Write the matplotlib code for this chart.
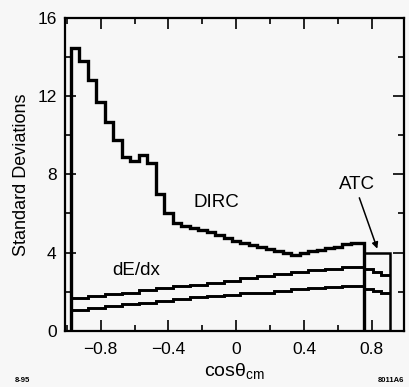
import matplotlib
matplotlib.use('Agg')
import matplotlib.pyplot as plt
from matplotlib.ticker import MultipleLocator

plt.rcParams['font.family'] = ['Liberation Sans', 'DejaVu Sans']
plt.rcParams['mathtext.fontset'] = 'custom'
plt.rcParams['mathtext.rm'] = 'Liberation Sans'
plt.rcParams['mathtext.it'] = 'Liberation Sans'

# DIRC separation, stepped histogram
dirc_edges = [-0.975, -0.925, -0.875, -0.825, -0.775, -0.725, -0.675, -0.625,
              -0.575, -0.525, -0.475, -0.425, -0.375, -0.325, -0.275, -0.225,
              -0.175, -0.125, -0.075, -0.025, 0.025, 0.075, 0.125, 0.175,
              0.225, 0.275, 0.325, 0.375, 0.425, 0.475, 0.525, 0.575, 0.625,
              0.675, 0.755]
dirc_vals = [14.46, 13.8, 12.8, 11.7, 10.7, 9.74, 8.9, 8.7, 9.0, 8.6, 7.0,
             6.0, 5.52, 5.38, 5.28, 5.15, 5.03, 4.9, 4.75, 4.6, 4.5, 4.4,
             4.3, 4.2, 4.1, 3.97, 3.87, 4.0, 4.08, 4.15, 4.22, 4.3, 4.45, 4.5]

# dE/dx, two curves
dedx_edges = [-0.975, -0.875, -0.775, -0.675, -0.575, -0.475, -0.375, -0.275,
              -0.175, -0.075, 0.025, 0.125, 0.225, 0.325, 0.425, 0.525, 0.625,
              0.755, 0.805, 0.855, 0.909]
dedx_upper = [1.70, 1.78, 1.87, 1.96, 2.08, 2.17, 2.27, 2.36, 2.45, 2.55,
              2.68, 2.80, 2.92, 3.02, 3.10, 3.18, 3.28, 3.15, 3.00, 2.85]
dedx_lower = [1.08, 1.15, 1.25, 1.35, 1.45, 1.55, 1.63, 1.72, 1.80, 1.85,
              1.92, 1.95, 2.05, 2.15, 2.20, 2.25, 2.30, 2.12, 2.03, 1.95]

# ATC box
atc_edges = [0.755, 0.909]
atc_vals = [4.0]

bg = '#f7f7f7'
fig = plt.figure(figsize=(4.09, 3.87), dpi=100, facecolor=bg)
ax = fig.add_axes([0.159, 0.145, 0.829, 0.809], facecolor=bg)

ax.stairs(dirc_vals, dirc_edges, baseline=0, color='black', lw=2.4)
ax.stairs(dedx_upper, dedx_edges, baseline=None, color='black', lw=2.1)
ax.stairs(dedx_lower, dedx_edges, baseline=None, color='black', lw=2.1)
ax.stairs(atc_vals, atc_edges, baseline=0, color='black', lw=1.8)

ax.text(-0.118, 6.56, 'DIRC', fontsize=13.5, ha='center', va='center')
ax.text(-0.59, 3.08, 'dE/dx', fontsize=13.5, ha='center', va='center')
ax.text(0.714, 7.5, 'ATC', fontsize=13.5, ha='center', va='center')
ax.annotate('', xy=(0.832, 4.2), xytext=(0.726, 6.8),
            arrowprops=dict(arrowstyle='-|>', color='black', lw=1.1,
                            mutation_scale=9, shrinkA=0, shrinkB=0))

ax.set_xlim(-1.01, 0.99)
ax.set_ylim(0, 16)
ax.xaxis.set_minor_locator(MultipleLocator(0.2))
ax.yaxis.set_major_locator(MultipleLocator(4))
ax.yaxis.set_minor_locator(MultipleLocator(2))
ax.set_xticks([-0.8, -0.4, 0, 0.4, 0.8])
ax.set_xticklabels(['\u22120.8', '\u22120.4', '0', '0.4', '0.8'])
ax.tick_params(which='both', direction='in', top=True, right=True,
               width=1.2, labelsize=12.5)
ax.tick_params(which='major', length=8)
ax.tick_params(which='minor', length=4.5)
ax.tick_params(axis='x', pad=8)
ax.tick_params(axis='y', pad=6)
for s in ax.spines.values():
    s.set_linewidth(1.6)

ax.set_ylabel('Standard Deviations', fontsize=13, labelpad=5)
ax.set_xlabel(r'cos$\theta_{\rm cm}$', fontsize=14, labelpad=3)

fig.text(0.037, 0.012, '8-95', fontsize=5.5, weight='bold')
fig.text(0.924, 0.012, '8011A6', fontsize=5.5, weight='bold')

fig.savefig('out.png', dpi=100, facecolor=bg)
